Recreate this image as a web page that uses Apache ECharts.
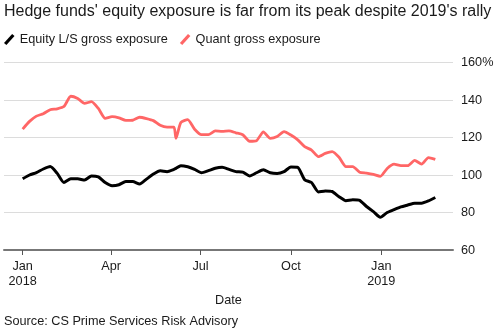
<!DOCTYPE html>
<html><head><meta charset="utf-8">
<script src="https://cdn.jsdelivr.net/npm/echarts@6/dist/echarts.min.js"></script>
<style>html,body{margin:0;padding:0;background:#fff}#c{width:499px;height:332px}</style>
</head><body><div id="c"></div>
<script>
const title = "Hedge funds' equity exposure is far from its peak despite 2019's rally";
const source = "Source: CS Prime Services Risk Advisory";
const seriesNames = ["Equity L/S gross exposure", "Quant gross exposure"];
const dates = ["2018-01-01","2018-01-08","2018-01-15","2018-01-22","2018-01-29","2018-02-05","2018-02-12","2018-02-19","2018-02-26","2018-03-05","2018-03-12","2018-03-19","2018-03-26","2018-04-02","2018-04-09","2018-04-16","2018-04-23","2018-04-30","2018-05-07","2018-05-14","2018-05-21","2018-05-28","2018-06-04","2018-06-06","2018-06-11","2018-06-18","2018-06-25","2018-07-02","2018-07-09","2018-07-16","2018-07-23","2018-07-30","2018-08-06","2018-08-13","2018-08-20","2018-08-27","2018-09-03","2018-09-10","2018-09-17","2018-09-24","2018-10-01","2018-10-08","2018-10-15","2018-10-22","2018-10-29","2018-11-05","2018-11-12","2018-11-19","2018-11-26","2018-12-03","2018-12-10","2018-12-17","2018-12-24","2018-12-31","2019-01-07","2019-01-14","2019-01-21","2019-01-28","2019-02-04","2019-02-11","2019-02-18","2019-02-25"];
const equityLS = [98.0,100.0,101.3,103.2,104.5,101.0,96.0,98.0,98.0,97.3,99.5,99.0,96.0,94.3,94.8,96.5,96.5,95.2,97.8,100.5,102.3,101.8,103.0,103.5,105.0,104.4,103.0,101.2,102.3,103.6,104.1,103.0,101.8,101.5,99.5,101.2,102.8,101.2,100.8,101.8,104.3,104.1,97.5,96.0,91.0,91.5,91.2,88.4,86.3,86.8,86.5,83.2,80.5,77.5,80.0,81.5,83.0,84.0,85.0,85.0,86.2,88.0];
const quant = [124.5,128.6,131.4,132.7,134.8,135.3,136.5,142.0,140.8,138.2,139.1,135.5,130.2,131.1,130.5,129.1,129.2,130.8,130.1,129.0,126.5,125.5,125.5,119.6,128.0,129.5,124.4,121.5,121.5,123.5,123.3,123.5,122.5,121.5,118.0,118.3,123.0,119.5,120.5,123.1,121.3,118.7,115.1,113.3,109.8,111.5,112.5,109.5,104.5,104.5,101.5,101.0,100.3,99.3,103.5,105.8,105.0,105.0,107.8,105.8,109.3,108.3];
const xTicks = ["2018-01-01","2018-04-01","2018-07-01","2018-10-01","2019-01-01"];
const yTicks = [60,80,100,120,140,160];

const font = "'Liberation Sans', Arial, sans-serif";
const months = ["Jan","Feb","Mar","Apr","May","Jun","Jul","Aug","Sep","Oct","Nov","Dec"];
const ts = s => { const p = s.split('-'); return Date.UTC(+p[0], +p[1]-1, +p[2]); };
const tickVals = xTicks.map(ts);
const icon = 'path://M0,9.5 L8.5,0 L11,2 L2.5,11.5 Z';
const chart = echarts.init(document.getElementById('c'), null, {renderer:'canvas'});
chart.setOption({
  animation:false,
  backgroundColor:'#fff',
  textStyle:{fontFamily:font},
  title:{text:title,left:4,top:4,padding:0,textStyle:{fontFamily:font,fontSize:16,fontWeight:'normal',color:'#1a1a1a'}},
  legend:{left:4,top:33,padding:0,itemGap:12,itemWidth:11,itemHeight:11,
    textStyle:{fontFamily:font,fontSize:12.7,color:'#1a1a1a'},
    data:[{name:seriesNames[0],icon:icon},{name:seriesNames[1],icon:icon}]},
  grid:{left:4,right:46,top:62.5,bottom:82,containLabel:false},
  xAxis:{type:'value',min:ts('2017-12-13'),max:ts('2019-03-15'),
    name:'Date',nameLocation:'middle',nameGap:44,nameTextStyle:{fontFamily:font,fontSize:12.7,color:'#1a1a1a'},
    axisLine:{show:true,lineStyle:{color:'#777',width:2}},
    axisTick:{show:true,customValues:tickVals,length:5,lineStyle:{color:'#555',width:1}},
    axisLabel:{customValues:tickVals,fontFamily:font,fontSize:12.7,color:'#1a1a1a',margin:9,lineHeight:15,
      formatter:v=>{const d=new Date(v);const m=d.getUTCMonth();return m===0?months[m]+'\n'+d.getUTCFullYear():months[m];}},
    splitLine:{show:false}},
  yAxis:{type:'value',position:'right',min:yTicks[0],max:yTicks[yTicks.length-1],interval:20,
    axisLine:{show:false},axisTick:{show:false},
    axisLabel:{fontFamily:font,fontSize:12.7,color:'#1a1a1a',margin:8,
      formatter:v=>v===160?v+'%':String(v)},
    splitLine:{lineStyle:{color:'#dcdcdc',width:1.2}}},
  series:[
    {name:seriesNames[0],type:'line',data:dates.map((d,i)=>[ts(d),equityLS[i]]),showSymbol:false,symbol:'none',
     itemStyle:{color:'#000'},lineStyle:{color:'#000',width:3,join:'round'},smooth:0.2,z:3},
    {name:seriesNames[1],type:'line',data:dates.map((d,i)=>[ts(d),quant[i]]),showSymbol:false,symbol:'none',
     itemStyle:{color:'#ff6666'},lineStyle:{color:'#ff6666',width:2.8,join:'round'},smooth:0.2,z:2}
  ],
  graphic:[{type:'text',left:4,top:315,style:{text:source,fontFamily:font,fontSize:12.7,fill:'#1a1a1a'}}]
});
</script></body></html>
